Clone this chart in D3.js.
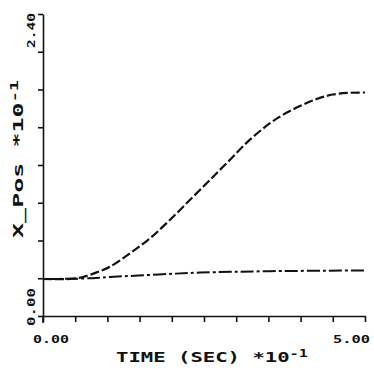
<!DOCTYPE html>
<html>
<head>
<meta charset="utf-8">
<script src="https://cdn.jsdelivr.net/npm/d3@7"></script>
<style>
  body { margin: 0; background: #fff; }
  svg { display: block; }
  text { font-family: "DejaVu Sans Mono", monospace; font-weight: bold; fill: #111; }
</style>
</head>
<body>
<div id="chart"></div>
<script>
// time in sec *10^-1, position *10^-1
const xTicks = [0, 0.5, 1, 1.5, 2, 2.5, 3, 3.5, 4, 4.5, 5];
const yTicks = [0, 0.3, 0.6, 0.9, 1.2, 1.5, 1.8, 2.1, 2.4];

// upper curve (long dashes)
const upperT = [0, 0.42, 0.62, 0.85, 1.04, 1.35, 1.66, 1.97, 2.28, 2.59, 2.90, 3.21, 3.52, 3.73, 3.99, 4.25, 4.50, 4.77, 5.0];
const upperV = [0.294, 0.295, 0.31, 0.35, 0.392, 0.498, 0.617, 0.763, 0.922, 1.08, 1.24, 1.40, 1.53, 1.60, 1.668, 1.725, 1.760, 1.774, 1.776];

// lower curve (dash-dot)
const lowerT = [0, 0.62, 1.04, 1.8, 2.44, 3.52, 5.0];
const lowerV = [0.294, 0.298, 0.310, 0.330, 0.345, 0.356, 0.362];

const width = 374, height = 372;
const svg = d3.select("#chart").append("svg")
  .attr("width", width)
  .attr("height", height);

const x = d3.scaleLinear().domain([0, 5]).range([43, 365]);
const y = d3.scaleLinear().domain([0, 2.4]).range([316, 14]);

// axes
const xAxis = svg.append("g")
  .attr("transform", `translate(0,${y(0)})`)
  .call(d3.axisBottom(x).tickValues(xTicks).tickSize(6).tickFormat("").tickSizeOuter(0));
const yAxis = svg.append("g")
  .attr("transform", `translate(${x(0)},0)`)
  .call(d3.axisLeft(y).tickValues(yTicks).tickSize(5).tickFormat("").tickSizeOuter(0));
[xAxis, yAxis].forEach(g => {
  g.selectAll("path, line").attr("stroke", "#111").attr("stroke-width", 1.6);
});
// little extension of y axis below the x axis
svg.append("line")
  .attr("x1", x(0)).attr("x2", x(0))
  .attr("y1", y(0)).attr("y2", y(0) + 7)
  .attr("stroke", "#111").attr("stroke-width", 1.6);

// end labels on x axis
svg.append("text")
  .attr("x", x(0) - 10).attr("y", 343)
  .attr("font-size", 10)
  .attr("textLength", 36).attr("lengthAdjust", "spacingAndGlyphs")
  .text("0.00");
svg.append("text")
  .attr("x", x(5) + 5).attr("y", 343)
  .attr("text-anchor", "end")
  .attr("font-size", 10)
  .attr("textLength", 37).attr("lengthAdjust", "spacingAndGlyphs")
  .text("5.00");

// end labels on y axis (rotated)
svg.append("text")
  .attr("transform", `translate(35,${y(2.4) - 1}) rotate(-90)`)
  .attr("text-anchor", "end")
  .attr("font-size", 10)
  .attr("textLength", 35).attr("lengthAdjust", "spacingAndGlyphs")
  .text("2.40");
svg.append("text")
  .attr("transform", `translate(35,${y(0) + 10}) rotate(-90)`)
  .attr("text-anchor", "start")
  .attr("font-size", 10)
  .attr("textLength", 38).attr("lengthAdjust", "spacingAndGlyphs")
  .text("0.00");

// axis titles
const xt = svg.append("text")
  .attr("x", 116).attr("y", 362)
  .attr("font-size", 13.5)
  .attr("textLength", 192).attr("lengthAdjust", "spacingAndGlyphs");
xt.append("tspan").text("TIME (SEC) *10");
xt.append("tspan").attr("dy", -5).attr("font-size", 10).text("-1");

const yt = svg.append("text")
  .attr("transform", "translate(23,238) rotate(-90)")
  .attr("font-size", 13.5)
  .attr("textLength", 158).attr("lengthAdjust", "spacingAndGlyphs");
yt.append("tspan").text("X_Pos  *10");
yt.append("tspan").attr("dy", -5).attr("font-size", 10).text("-1");

// curves
const line = d3.line()
  .x(d => x(d[0]))
  .y(d => y(d[1]))
  .curve(d3.curveCatmullRom.alpha(0.5));

svg.append("path")
  .datum(d3.zip(lowerT, lowerV))
  .attr("d", line)
  .attr("fill", "none")
  .attr("stroke", "#111")
  .attr("stroke-width", 2)
  .attr("stroke-dasharray", "13,3,3,3");

svg.append("path")
  .datum(d3.zip(upperT, upperV))
  .attr("d", line)
  .attr("fill", "none")
  .attr("stroke", "#111")
  .attr("stroke-width", 2.2)
  .attr("stroke-dasharray", "9,3");
</script>
</body>
</html>
